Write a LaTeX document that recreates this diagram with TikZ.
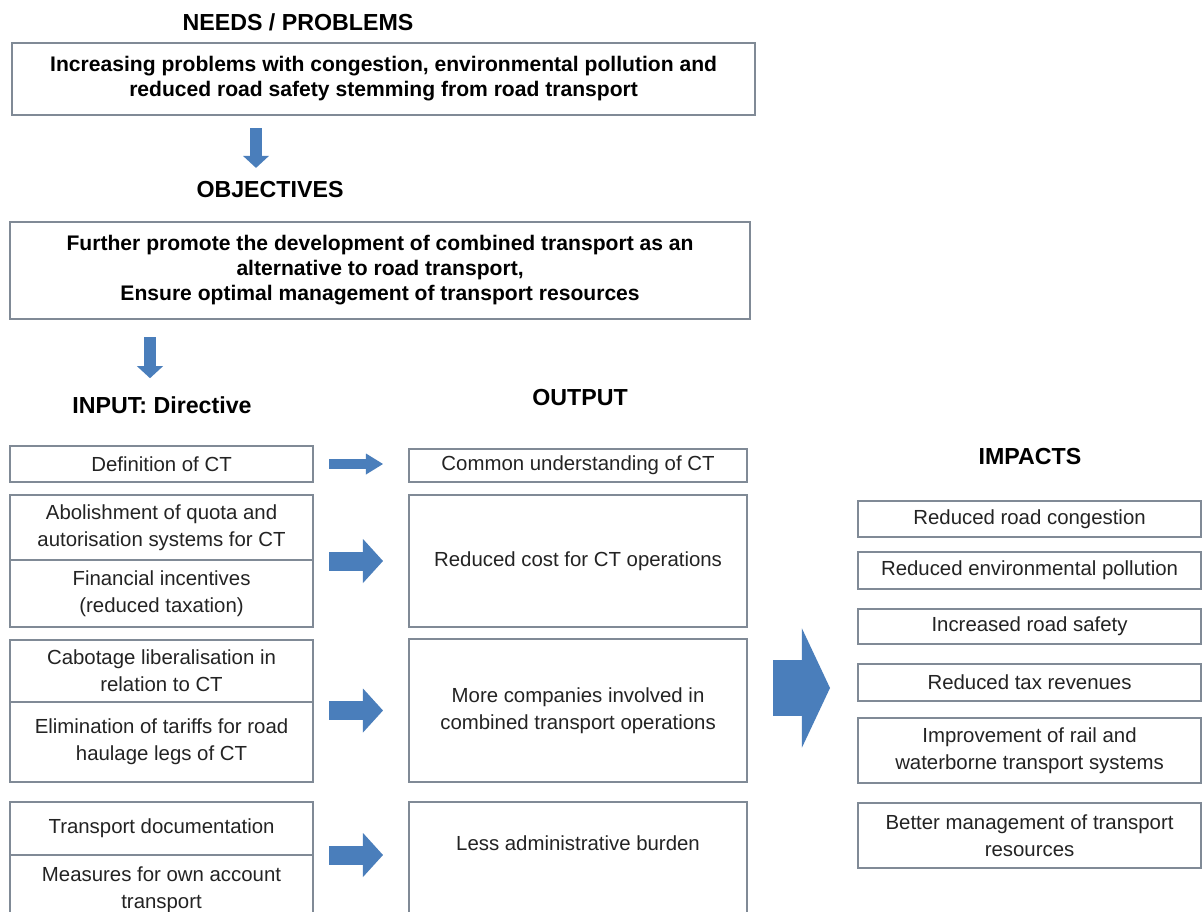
\documentclass[tikz,border=0pt]{standalone}
\usepackage{fontspec}
\setmainfont{Liberation Sans}
\usepackage{tikz}
\usetikzlibrary{positioning,arrows.meta}
\definecolor{boxline}{RGB}{128,138,150}
\definecolor{arrowblue}{RGB}{74,126,187}
\definecolor{txtgray}{RGB}{35,35,35}

\begin{document}
\begin{tikzpicture}[
        x=0.025cm, y=-0.025cm,
        box/.style={draw=boxline, line width=1.1pt, fill=white, inner sep=0pt,
            outer sep=0pt, align=center, anchor=north west, text=txtgray,
            font=\fontsize{14.5}{19}\selectfont},
        inbox/.style={box, minimum width=7.575cm},
        outbox/.style={box, minimum width=8.45cm},
        impbox/.style={box, minimum width=8.575cm},
        topbox/.style={box, text=black, font=\fontsize{15}{17.8}\selectfont\bfseries},
        boxtext/.style={inner sep=0pt, text=txtgray, font=\fontsize{14.5}{19}\selectfont},
        heading/.style={inner sep=0pt, font=\fontsize{16.5}{20}\selectfont\bfseries},
        downarr/.style={draw=arrowblue, line width=0.3cm,
            -{Triangle[length=0.3cm, width=0.65cm, line width=0pt]}},
        thinarr/.style={draw=arrowblue, line width=0.25cm, shorten <=0.4cm, shorten >=0.65cm,
            -{Triangle[length=0.425cm, width=0.525cm, line width=0pt]}},
        fatarr/.style={draw=arrowblue, line width=0.475cm, shorten <=0.4cm, shorten >=0.65cm,
            -{Triangle[length=0.5cm, width=1.1cm, line width=0pt]}},
        bigarr/.style={draw=arrowblue, line width=1.375cm, shorten <=0.65cm, shorten >=0.7cm,
            -{Triangle[length=0.7cm, width=2.975cm, line width=0pt]}}
        ]
        \useasboundingbox (0,0) rectangle (1203,912);
        \clip (0,0) rectangle (1203,912);
        \fill[white] (0,0) rectangle (1203,912);

        % needs and objectives
        \node[heading] (needstitle) at (298,22) {NEEDS / PROBLEMS};
        \node[topbox, minimum width=18.575cm, minimum height=1.8cm] (needs) at (12,43)
            {Increasing problems with congestion, environmental pollution and\\
             reduced road safety stemming from road transport};
        \node[heading] (objtitle) at (270,190) {OBJECTIVES};
        \node[topbox, minimum width=18.5cm, minimum height=2.425cm] (obj) at (10,222)
            {Further promote the development of combined transport as an\\
             alternative to road transport,\\
             Ensure optimal management of transport resources};

        \node[heading] (intitle) at (162,405) {INPUT: Directive};
        \node[heading] (outtitle) at (580,398) {OUTPUT};
        \node[heading] (imptitle) at (1030,457) {IMPACTS};

        % input
        \node[inbox, minimum height=0.9cm] (def) at (10,446) {Definition of CT};
        \node[inbox, minimum height=1.625cm] (abol) at (10,495)
            {Abolishment of quota and\\autorisation systems for CT};
        \node[inbox, minimum height=1.675cm, below=0pt of abol] (fin)
            {Financial incentives\\(reduced taxation)};
        \node[inbox, minimum height=1.55cm] (cab) at (10,640)
            {Cabotage liberalisation in\\relation to CT};
        \node[inbox, minimum height=2cm, below=0pt of cab] (elim)
            {Elimination of tariffs for road\\haulage legs of CT};
        \node[inbox, minimum height=1.325cm] (trans) at (10,802) {Transport documentation};
        \node[inbox, minimum height=1.75cm, below=0pt of trans] (meas)
            {Measures for own account\\transport};

        % output
        \node[outbox, minimum height=0.825cm] (common) at (409,449) {Common understanding of CT};
        \node[outbox, minimum height=3.3cm] (cost) at (409,495) {Reduced cost for CT operations};
        \node[outbox, minimum height=3.575cm] (comp) at (409,639)
            {More companies involved in\\combined transport operations};
        \node[outbox, minimum height=3.5cm] (admin) at (409,802) {};
        \node[boxtext] (admintxt) at (578,843) {Less administrative burden};

        % impacts
        \node[impbox, minimum height=0.9cm] (imp1) at (858,501) {Reduced road congestion};
        \node[impbox, minimum height=0.925cm] (imp2) at (858,552) {Reduced environmental pollution};
        \node[impbox, minimum height=0.875cm] (imp3) at (858,609) {Increased road safety};
        \node[impbox, minimum height=0.925cm] (imp4) at (858,664) {Reduced tax revenues};
        \node[impbox, minimum height=1.625cm] (imp5) at (858,718)
            {Improvement of rail and\\waterborne transport systems};
        \node[impbox, minimum height=1.625cm] (imp6) at (858,803)
            {Better management of transport\\resources};

        % arrows
        \coordinate (d1) at (256,0);
        \coordinate (d2) at (150,0);
        \coordinate (bigmid) at (800,688);
        \draw[downarr, shorten <=0.325cm, shorten >=0.34cm] (needs.south -| d1) -- (objtitle.north -| d1);
        \draw[downarr, shorten <=0.45cm, shorten >=0.45cm] (obj.south -| d2) -- (intitle.north -| d2);
        \draw[thinarr] (def.east) -- (def.east -| common.west);
        \draw[fatarr] (abol.east |- cost.west) -- (cost.west);
        \draw[fatarr] (cab.east |- comp.west) -- (comp.west);
        \draw[fatarr] (trans.south east) -- (trans.south east -| admin.west);
        \draw[bigarr] (bigmid -| comp.east) -- (bigmid -| imp4.west);
\end{tikzpicture}
\end{document}
